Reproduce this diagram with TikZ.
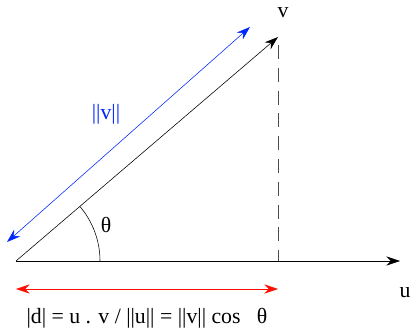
\documentclass[tikz,border=0pt]{standalone}
\usepackage{fontspec}
\setmainfont{Liberation Serif}
\usetikzlibrary{arrows.meta, positioning, calc}

\begin{document}
\begin{tikzpicture}[
  x=0.025cm, y=-0.025cm,
  arr/.style={-{Stealth[length=3.4mm, width=2.3mm]}, thin},
  dblarr/.style={{Stealth[length=3.4mm, width=2.3mm]}-{Stealth[length=3.4mm, width=2.3mm]}, thin},
  lbl/.style={inner sep=0pt, font=\fontsize{15.5}{18}\selectfont}
]
  \useasboundingbox (0,0) rectangle (410,329);
  \coordinate (o) at (16,261);
  \coordinate (v) at (278,37);
  \coordinate (u) at (400,261);
  \coordinate (foot) at (278,261);
  \coordinate (top) at (278,45);
  \coordinate (b1) at (7,242);
  \coordinate (b2) at (250,27);
  \coordinate (r1) at (16,289);
  \coordinate (r2) at (278,289);
  \draw[arr] (o) -- (v);
  \draw[arr] (o) -- (u);
  \draw[dashed, dash pattern=on 3.5mm off 2.2mm, black!70] (top) -- (foot);
  \draw[dblarr, blue!85!cyan] (b1) -- (b2);
  \draw[dblarr, red!90!orange] (r1) -- (r2);
  \draw ($(o)+(84,0)$) arc[start angle=0, end angle=-40.5, radius=84];
  \node[lbl] (vlab) at (283,13) {v};
  \node[lbl] (ulab) at (405,293) {u};
  \node[lbl] (theta) at (106,225) {θ};
  \node[lbl, text=blue!85!cyan] (norm) at (106,114) {||v||};
  \node[lbl] (formula) at (147,318) {|d| = u . v / ||u|| = ||v|| cos \ \ θ};
\end{tikzpicture}
\end{document}
